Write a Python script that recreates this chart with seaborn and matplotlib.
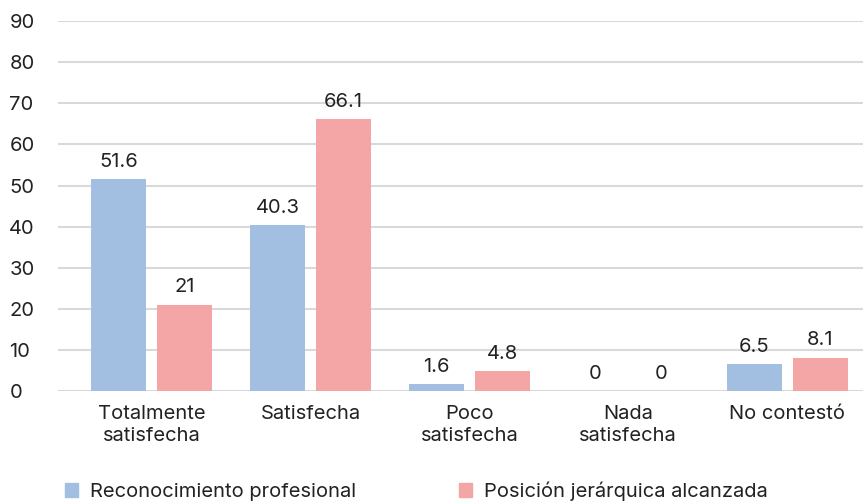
import numpy as np
import pandas as pd
import matplotlib
matplotlib.use("Agg")
import matplotlib.pyplot as plt
import seaborn as sns
from matplotlib.patches import Patch

categorias = ["Totalmente\nsatisfecha", "Satisfecha", "Poco\nsatisfecha", "Nada\nsatisfecha", "No contestó"]
series = ["Reconocimiento profesional", "Posición jerárquica alcanzada"]
reconocimiento = [51.6, 40.3, 1.6, 0, 6.5]
posicion = [21, 66.1, 4.8, 0, 8.1]
colores = ["#A2BFE1", "#F4A6A7"]

sns.set_theme(style="white")
plt.rcParams['font.family'] = ['Inter', 'DejaVu Sans']
plt.rcParams['text.color'] = '#222222'

df = pd.DataFrame({
    "Categoria": categorias * 2,
    "Serie": [series[0]] * 5 + [series[1]] * 5,
    "Valor": reconocimiento + posicion,
})

fig = plt.figure(figsize=(8.65, 5.03), dpi=100)
ax = fig.add_axes([0.067, 0.2227, 0.931, 0.7353])

sns.barplot(data=df, x="Categoria", y="Valor", hue="Serie", palette=colores,
            width=0.83, gap=0.166, saturation=1, linewidth=0, ax=ax,
            legend=False, zorder=3)

for cont, vals in zip(ax.containers, [reconocimiento, posicion]):
    ax.bar_label(cont, labels=[f"{v:g}" for v in vals], padding=6,
                 fontsize=14.5, color="#222222")

ax.set_ylim(0, 90)
ax.set_xlim(-0.588, 4.478)
ax.set_yticks(np.arange(0, 91, 10))
ax.yaxis.grid(True, color="#D9D9D9", linewidth=1.5, zorder=0)
ax.set_axisbelow(True)
for s in ax.spines.values():
    s.set_visible(False)
ax.set_xlabel("")
ax.set_ylabel("")
ax.tick_params(axis="both", length=0, labelsize=14.5, colors="#222222")
ax.tick_params(axis="y", pad=35)
ax.tick_params(axis="x", pad=10)
for lbl in ax.get_yticklabels():
    lbl.set_horizontalalignment("left")
for lbl in ax.get_xticklabels():
    lbl.set_linespacing(1.3)

handles = [Patch(color=c, label=s) for c, s in zip(colores, series)]
fig.legend(handles=handles, loc="lower left", bbox_to_anchor=(0.054, -0.032), ncol=2,
           frameon=False, fontsize=14.5, handlelength=0.65, handleheight=0.65,
           handletextpad=0.6, columnspacing=5.1)

fig.savefig("out.png", dpi=100)
